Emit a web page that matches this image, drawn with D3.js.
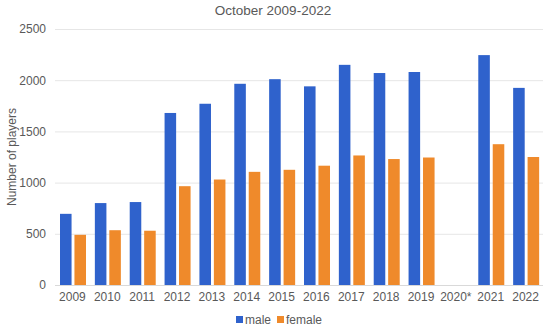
<!DOCTYPE html>
<html>
<head>
<meta charset="utf-8">
<script src="https://cdn.jsdelivr.net/npm/d3@7"></script>
<style>
  body { margin: 0; background: #fff; }
  text { font-family: "Liberation Sans", Arial, sans-serif; fill: #595959; }
</style>
</head>
<body>
<svg id="chart" width="550" height="330"></svg>
<script>
// data
var years = ["2009","2010","2011","2012","2013","2014","2015","2016","2017","2018","2019","2020*","2021","2022"];
var male = [695, 800, 810, 1680, 1770, 1965, 2010, 1940, 2150, 2070, 2080, null, 2245, 1925];
var female = [490, 535, 530, 965, 1030, 1105, 1125, 1165, 1265, 1230, 1245, null, 1375, 1250];
var yTicks = [0, 500, 1000, 1500, 2000, 2500];

var colors = { male: "#2f62cc", female: "#ef8a2b" };

var svg = d3.select("#chart");
// note: can't use "top" as a global name (window.top)
var plotLeft = 55, plotRight = 543, plotTop = 29, plotBottom = 285;

var x0 = d3.scaleBand().domain(years).range([plotLeft, plotRight]).padding(0);
var x1 = d3.scaleBand().domain(["male", "female"]).range([5, 31]).paddingInner(0.2);
var y = d3.scaleLinear().domain([0, 2500]).range([plotBottom, plotTop]);

// gridlines
svg.append("g")
  .selectAll("line")
  .data(yTicks)
  .enter().append("line")
  .attr("x1", plotLeft).attr("x2", plotRight)
  .attr("y1", function(d) { return y(d) + 0.5; })
  .attr("y2", function(d) { return y(d) + 0.5; })
  .attr("stroke", function(d) { return d === 0 ? "#d9d9d9" : "#e6e6e6"; })
  .attr("stroke-width", 1);

// y axis labels
var yAxis = svg.append("g")
  .attr("transform", "translate(" + (plotLeft - 9) + ",0)")
  .call(d3.axisLeft(y).tickValues(yTicks).tickSize(0).tickPadding(0).tickFormat(d3.format("d")));
yAxis.select(".domain").remove();
yAxis.selectAll("text").style("font-size", "12px").style("fill", "#595959")
  .style("font-family", "Liberation Sans, Arial, sans-serif");

// x axis labels
var xAxis = svg.append("g")
  .attr("transform", "translate(0," + (plotBottom + 7) + ")")
  .call(d3.axisBottom(x0).tickSize(0).tickPadding(0));
xAxis.select(".domain").remove();
xAxis.selectAll("text").style("font-size", "12px").style("fill", "#595959")
  .style("font-family", "Liberation Sans, Arial, sans-serif");

// bars
var rows = years.map(function(yr, i) {
  return { year: yr, values: [{ key: "male", v: male[i] }, { key: "female", v: female[i] }] };
});

var groups = svg.append("g")
  .selectAll("g")
  .data(rows)
  .enter().append("g")
  .attr("transform", function(d) { return "translate(" + x0(d.year) + ",0)"; });

groups.selectAll("rect")
  .data(function(d) { return d.values.filter(function(e) { return e.v != null; }); })
  .enter().append("rect")
  .attr("x", function(d) { return x1(d.key); })
  .attr("width", x1.bandwidth())
  .attr("y", function(d) { return y(d.v); })
  .attr("height", function(d) { return plotBottom - y(d.v); })
  .attr("fill", function(d) { return colors[d.key]; });

// title
svg.append("text")
  .attr("x", 273).attr("y", 15)
  .attr("text-anchor", "middle")
  .style("font-size", "13.5px")
  .text("October 2009-2022");

// y axis title
svg.append("text")
  .attr("transform", "translate(16," + ((plotTop + plotBottom) / 2) + ") rotate(-90)")
  .attr("text-anchor", "middle")
  .style("font-size", "12px")
  .text("Number of players");

// legend
var legend = svg.append("g").attr("transform", "translate(236,314)");
var items = [{ key: "male", x: 0 }, { key: "female", x: 41 }];
legend.selectAll("rect")
  .data(items).enter().append("rect")
  .attr("x", function(d) { return d.x; })
  .attr("y", 2)
  .attr("width", 7).attr("height", 7)
  .attr("fill", function(d) { return colors[d.key]; });
legend.selectAll("text")
  .data(items).enter().append("text")
  .attr("x", function(d) { return d.x + 9; })
  .attr("y", 10)
  .style("font-size", "12px")
  .text(function(d) { return d.key; });
</script>
</body>
</html>
